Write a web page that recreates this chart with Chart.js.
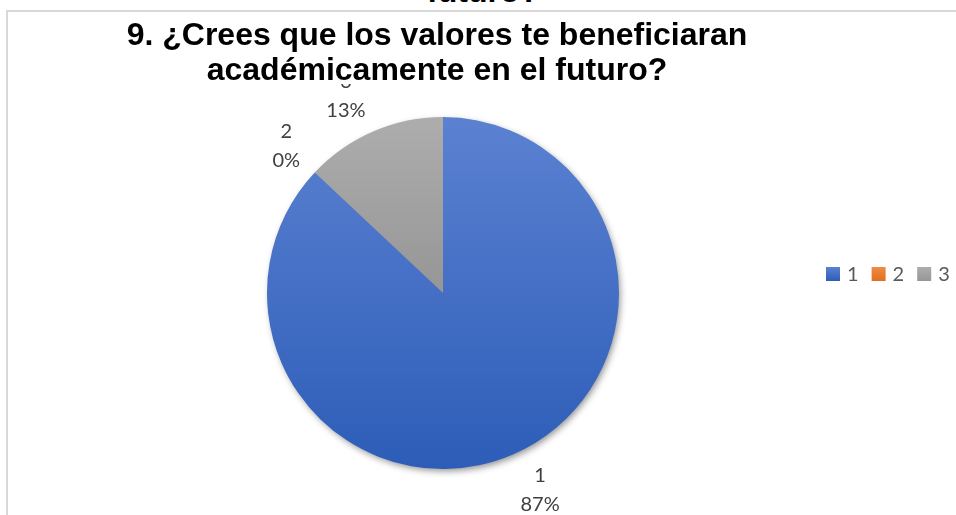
<!DOCTYPE html>
<html>
<head>
<meta charset="utf-8">
<script src="https://cdn.jsdelivr.net/npm/chart.js@4/dist/chart.umd.min.js"></script>
<style>
  html, body { margin: 0; padding: 0; background: #fff; overflow: hidden; }
  #wrap { position: relative; width: 956px; height: 515px; overflow: hidden; background: #fff; }
  #frame { position: absolute; left: 6px; top: 10px; width: 1000px; height: 600px;
           border-top: 2px solid #d9d9d9; border-left: 2px solid #d9d9d9; }
  canvas { position: absolute; left: 0; top: 0; }
  .ttl { position: absolute; left: 0; width: 874px; text-align: center; color: #000;
         font: bold 32px "Liberation Sans", Arial, sans-serif; line-height: 35px; white-space: nowrap; }
  #prev { top: -26px; width: 966px; }
  #title { top: 17px; left: 0; width: 874px; }
  #title span { background: #fff; display: inline-block; padding: 0 4px; height: 67px; overflow: visible; }
</style>
</head>
<body>
<div id="wrap">
  <div id="prev" class="ttl">futuro?</div>
  <div id="frame"></div>
  <canvas id="pieChart" width="956" height="515"></canvas>
  <div id="title" class="ttl"><span>9. ¿Crees que los valores te beneficiaran<br>académicamente en el futuro?</span></div>
</div>
<script>
// categorias e valores (porcentagens)
const categories = ['1', '2', '3'];
const values = [87, 0, 13];
const baseColors = ['#4472c4', '#ed7d31', '#a5a5a5'];
// gradiente vertical de cada fatia: [topo, base]
const gradColors = [
  ['#5b81d1', '#2d5db8'],
  ['#f08a45', '#e0701f'],
  ['#adadad', '#969696'],
];

function sliceGradient(context) {
  const chart = context.chart;
  const area = chart.chartArea;
  const i = context.dataIndex;
  if (!area) return baseColors[i];
  const top = area.top;
  // fatia cinza ocupa só a metade de cima
  const bottom = i === 2 ? (area.top + area.bottom) / 2 : area.bottom;
  const g = chart.ctx.createLinearGradient(0, top, 0, bottom);
  g.addColorStop(0, gradColors[i][0]);
  g.addColorStop(1, gradColors[i][1]);
  return g;
}

// sombra suave atrás da pizza
const pieShadow = {
  id: 'pieShadow',
  beforeDatasetsDraw(chart) {
    const arc = chart.getDatasetMeta(0).data[0];
    if (!arc) return;
    const { ctx } = chart;
    ctx.save();
    ctx.shadowColor = 'rgba(0,0,0,0.45)';
    ctx.shadowBlur = 7;
    ctx.shadowOffsetX = 2;
    ctx.shadowOffsetY = 3;
    ctx.beginPath();
    ctx.arc(arc.x, arc.y, arc.outerRadius - 1, 0, Math.PI * 2);
    ctx.fillStyle = '#3a68c0';
    ctx.fill();
    ctx.restore();
  },
};

// rótulos "categoria / %" fora da pizza
const sliceLabels = {
  id: 'sliceLabels',
  afterDatasetsDraw(chart) {
    const { ctx } = chart;
    const meta = chart.getDatasetMeta(0);
    const data = chart.data.datasets[0].data;
    const total = data.reduce((a, b) => a + b, 0);
    ctx.save();
    ctx.font = '20px Lato, "Open Sans", sans-serif';
    ctx.fillStyle = '#404040';
    ctx.textAlign = 'center';
    ctx.textBaseline = 'middle';
    meta.data.forEach((arc, i) => {
      const mid = (arc.startAngle + arc.endAngle) / 2;
      const pct = Math.round((data[i] / total) * 100) + '%';
      const w = Math.max(ctx.measureText(pct).width, ctx.measureText(chart.data.labels[i]).width);
      const cos = Math.cos(mid);
      const sin = Math.sin(mid);
      const dist = arc.outerRadius + 39;
      let x = arc.x + cos * dist;
      const y = arc.y + sin * dist;
      // rótulos em cima/embaixo são empurrados para fora na horizontal
      if (Math.abs(sin) > Math.abs(cos)) x += cos * w * 0.75;
      ctx.fillText(chart.data.labels[i], x, y - 14.5);
      ctx.fillText(pct, x, y + 14.5);
    });
    ctx.restore();
  },
};

// legenda horizontal à direita
const rowLegend = {
  id: 'rowLegend',
  afterDraw(chart) {
    const { ctx } = chart;
    let x = 826;
    const yc = 274;
    ctx.save();
    ctx.font = '20px Lato, "Open Sans", sans-serif';
    ctx.textBaseline = 'middle';
    chart.data.labels.forEach((lab, i) => {
      const g = ctx.createLinearGradient(0, yc - 7, 0, yc + 7);
      g.addColorStop(0, gradColors[i][0]);
      g.addColorStop(1, gradColors[i][1]);
      ctx.fillStyle = g;
      ctx.fillRect(x, yc - 7, 14, 14);
      ctx.fillStyle = '#595959';
      ctx.fillText(lab, x + 21, yc + 1);
      x += 21 + ctx.measureText(lab).width + 13;
    });
    ctx.restore();
  },
};

const pieCtx = document.getElementById('pieChart').getContext('2d');
new Chart(pieCtx, {
  type: 'pie',
  data: {
    labels: categories,
    datasets: [
      {
        data: values,
        backgroundColor: sliceGradient,
        borderWidth: 0,
      },
    ],
  },
  options: {
    responsive: false,
    animation: false,
    layout: { padding: { left: 267, right: 337, top: 117, bottom: 46 } },
    plugins: {
      legend: { display: false },
      tooltip: { enabled: false },
      title: { display: false },
    },
  },
  plugins: [pieShadow, sliceLabels, rowLegend],
});
</script>
</body>
</html>
